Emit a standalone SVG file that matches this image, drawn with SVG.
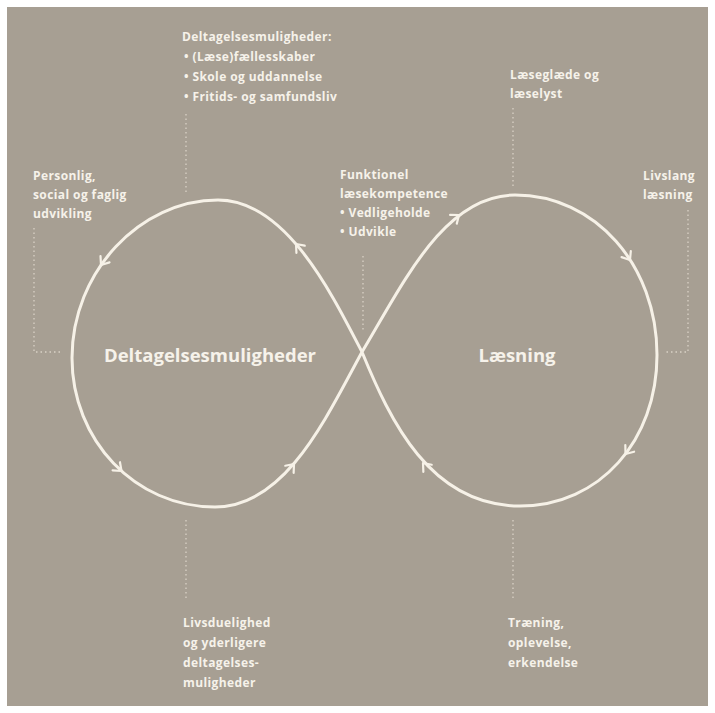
<svg xmlns="http://www.w3.org/2000/svg" width="715" height="713" viewBox="0 0 715 713">
<style>
.bg{fill:#a79f93}
.t{font-family:"Open Sans","Liberation Sans",sans-serif;font-weight:bold;font-size:12px;letter-spacing:0.4px;fill:#f6f2ea}
.big{font-family:"Open Sans","Liberation Sans",sans-serif;font-weight:bold;font-size:18.5px;fill:#f6f2ea}
.loop{fill:none;stroke:#f6f1e7;stroke-width:3;stroke-linecap:round}
.dot{fill:none;stroke:#d9d2c6;stroke-width:1.3;stroke-dasharray:1.5 3}
.arr{fill:none;stroke:#f6f1e7;stroke-width:2.2;stroke-linecap:round;stroke-linejoin:round}
</style>
<defs>
<path id="chev" d="M-7,-5.5 L0,0 L-7,5.5"/>
</defs>
<rect width="715" height="713" fill="#ffffff"/>
<rect class="bg" x="7" y="7" width="701" height="699"/>

<g id="connectors">
<path class="loop" d="M362,352 C405,280 445,195 515,195 C595,195 657,265 657,355 C657,440 600,506 520,506 C430,506 390,420 362,352 C330,290 285,200 218,200 C140,200 72,272 72,358 C72,440 135,507 215,507 C285,507 325,420 362,352 Z"/>
<g class="arr">
<use href="#chev" transform="translate(101,265) rotate(125)"/>
<use href="#chev" transform="translate(121.5,471) rotate(42)"/>
<use href="#chev" transform="translate(294,464) rotate(-49.5)"/>
<use href="#chev" transform="translate(296,244) rotate(-131)"/>
<use href="#chev" transform="translate(459,215) rotate(-37.5)"/>
<use href="#chev" transform="translate(630,260) rotate(57)"/>
<use href="#chev" transform="translate(625.5,454) rotate(127)"/>
<use href="#chev" transform="translate(423,463) rotate(-130.5)"/>
</g>
<path class="dot" d="M186,114 V192"/>
<path class="dot" d="M34,228 V352 H63"/>
<path class="dot" d="M363,256 V330"/>
<path class="dot" d="M513,108 V188"/>
<path class="dot" d="M688,210 V352 H666"/>
<path class="dot" d="M186,520 V600"/>
<path class="dot" d="M513,520 V600"/>
</g>

<g id="node-deltagelse-top">
<text class="t" x="182" y="41">Deltagelsesmuligheder:</text>
<text class="t" x="184" y="61">• (Læse)fællesskaber</text>
<text class="t" x="184" y="81">• Skole og uddannelse</text>
<text class="t" x="184" y="101">• Fritids- og samfundsliv</text>
</g>
<g id="node-personlig">
<text class="t" x="33" y="180">Personlig,</text>
<text class="t" x="33" y="199">social og faglig</text>
<text class="t" x="33" y="218">udvikling</text>
</g>
<g id="node-funktionel">
<text class="t" x="340" y="179">Funktionel</text>
<text class="t" x="340" y="198">læsekompetence</text>
<text class="t" x="340" y="217">• Vedligeholde</text>
<text class="t" x="340" y="236">• Udvikle</text>
</g>
<g id="node-laeseglaede">
<text class="t" x="510" y="79">Læseglæde og</text>
<text class="t" x="510" y="98">læselyst</text>
</g>
<g id="node-livslang">
<text class="t" x="643" y="180">Livslang</text>
<text class="t" x="643" y="199">læsning</text>
</g>
<g id="node-livsduelighed">
<text class="t" x="183" y="627">Livsduelighed</text>
<text class="t" x="183" y="647">og yderligere</text>
<text class="t" x="183" y="667">deltagelses-</text>
<text class="t" x="183" y="687">muligheder</text>
</g>
<g id="node-traening">
<text class="t" x="508" y="627">Træning,</text>
<text class="t" x="508" y="647">oplevelse,</text>
<text class="t" x="508" y="667">erkendelse</text>
</g>
<g id="node-deltagelse-center">
<text class="big" x="210" y="362" text-anchor="middle">Deltagelsesmuligheder</text>
</g>
<g id="node-laesning">
<text class="big" x="517" y="362" text-anchor="middle">Læsning</text>
</g>
</svg>
